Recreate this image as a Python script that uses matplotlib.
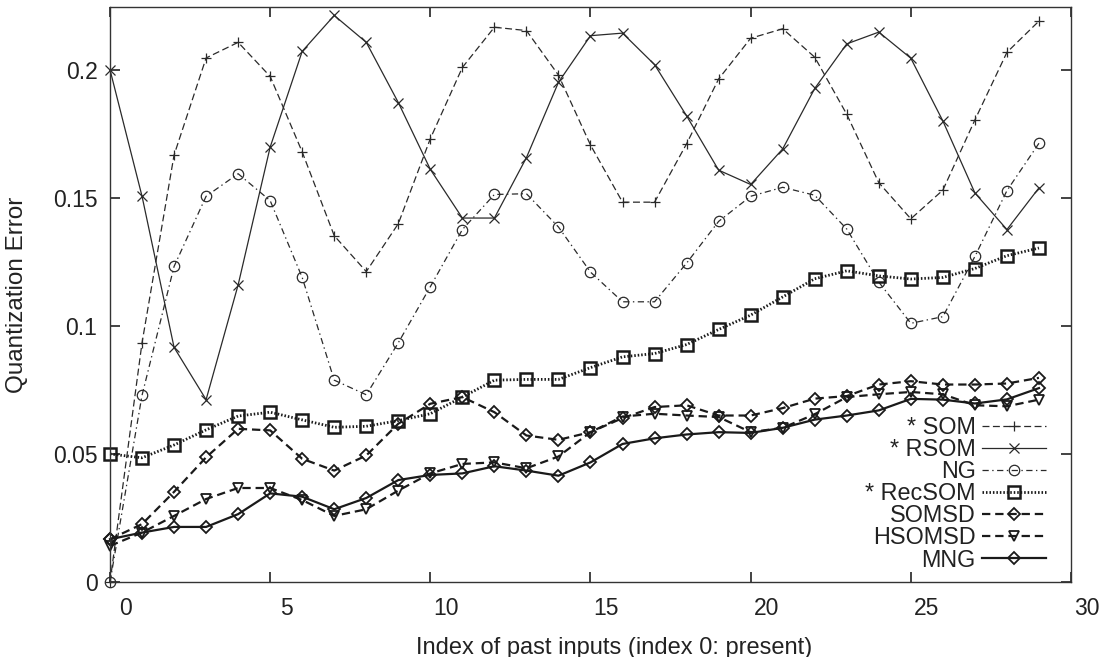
import numpy as np
import matplotlib
matplotlib.use("Agg")
import matplotlib.pyplot as plt
from matplotlib.transforms import ScaledTranslation

plt.rcParams['font.family'] = ['Liberation Sans', 'DejaVu Sans']
plt.rcParams['lines.scale_dashes'] = False

# index of past inputs
steps = np.arange(30)

som = [0.0, 0.0934, 0.1667, 0.2046, 0.2107, 0.1974, 0.1679, 0.1352, 0.1212, 0.1399,
       0.1731, 0.2009, 0.2166, 0.2153, 0.1979, 0.1706, 0.1483, 0.1483, 0.1711, 0.1964,
       0.2123, 0.2160, 0.2049, 0.1826, 0.1559, 0.1418, 0.1530, 0.1804, 0.2068, 0.2190]
rsom = [0.2000, 0.1506, 0.0916, 0.0712, 0.1160, 0.1698, 0.2072, 0.2212, 0.2107, 0.1872,
        0.1611, 0.1421, 0.1421, 0.1657, 0.1951, 0.2133, 0.2143, 0.2020, 0.1820, 0.1608,
        0.1552, 0.1691, 0.1927, 0.2101, 0.2147, 0.2045, 0.1800, 0.1519, 0.1376, 0.1539]
ng = [0.0, 0.0729, 0.1232, 0.1506, 0.1594, 0.1489, 0.1189, 0.0788, 0.0731, 0.0934,
      0.1153, 0.1376, 0.1513, 0.1516, 0.1386, 0.1210, 0.1094, 0.1094, 0.1245, 0.1408,
      0.1506, 0.1541, 0.1510, 0.1378, 0.1171, 0.1010, 0.1036, 0.1271, 0.1528, 0.1713]
recsom = [0.0500, 0.0485, 0.0535, 0.0594, 0.0648, 0.0663, 0.0633, 0.0604, 0.0608, 0.0630,
          0.0657, 0.0722, 0.0788, 0.0791, 0.0791, 0.0837, 0.0879, 0.0892, 0.0927, 0.0986,
          0.1042, 0.1113, 0.1184, 0.1215, 0.1195, 0.1183, 0.1189, 0.1224, 0.1274, 0.1304]
somsd = [0.0167, 0.0226, 0.0352, 0.0487, 0.0598, 0.0592, 0.0481, 0.0435, 0.0494, 0.0618,
         0.0696, 0.0722, 0.0663, 0.0572, 0.0555, 0.0585, 0.0640, 0.0683, 0.0690, 0.0650,
         0.0650, 0.0679, 0.0716, 0.0726, 0.0771, 0.0784, 0.0771, 0.0771, 0.0775, 0.0797]
hsomsd = [0.0141, 0.0193, 0.0258, 0.0324, 0.0367, 0.0367, 0.0320, 0.0258, 0.0284, 0.0357,
          0.0424, 0.0461, 0.0467, 0.0444, 0.0490, 0.0585, 0.0646, 0.0657, 0.0650, 0.0644,
          0.0585, 0.0602, 0.0655, 0.0722, 0.0733, 0.0742, 0.0733, 0.0690, 0.0686, 0.0712]
mng = [0.0167, 0.0193, 0.0215, 0.0215, 0.0265, 0.0346, 0.0333, 0.0284, 0.0328, 0.0398,
       0.0418, 0.0424, 0.0452, 0.0435, 0.0415, 0.0467, 0.0539, 0.0561, 0.0576, 0.0585,
       0.0582, 0.0602, 0.0634, 0.0650, 0.0670, 0.0715, 0.0712, 0.0697, 0.0713, 0.0757]

xticks = [0, 5, 10, 15, 20, 25, 30]
yticks = [0, 0.05, 0.1, 0.15, 0.2]
ytick_labels = ['0', '0.05', '0.1', '0.15', '0.2']

fig = plt.figure(figsize=(11.12, 6.57), dpi=100)
ax = fig.add_axes([110 / 1112, 1 - 582 / 657, 961 / 1112, 575 / 657])

thin = '#2a2a2a'
dark = '#1a1a1a'
ax.plot(steps, som, color=thin, lw=0.9, ls=(0, (5, 2.5)), marker='+', ms=7.5, mew=0.9,
        label='* SOM', clip_on=False)
ax.plot(steps, rsom, color=thin, lw=0.9, ls='-', marker='x', ms=7.5, mew=0.9,
        label='* RSOM', clip_on=False)
ax.plot(steps, ng, color=thin, lw=0.9, ls=(0, (4.5, 2.5, 1, 2.5)), marker='o', ms=7.5,
        mfc='none', mew=0.9, label='NG', clip_on=False)
ax.plot(steps, recsom, color=dark, lw=2.0, ls=(0, (1.1, 1.4)), marker='s', ms=8,
        mfc='none', mew=1.8, label='* RecSOM', clip_on=False)
ax.plot(steps, somsd, color=dark, lw=1.6, ls=(0, (6, 3.5)), marker='D', ms=6.5,
        mfc='none', mew=1.3, label='SOMSD', clip_on=False)
ax.plot(steps, hsomsd, color=dark, lw=1.6, ls=(0, (6, 3.5)), marker='v', ms=7.5,
        mfc='none', mew=1.3, label='HSOMSD', clip_on=False)
ax.plot(steps, mng, color=dark, lw=1.6, ls='-', marker='D', ms=6.5,
        mfc='none', mew=1.3, label='MNG', clip_on=False)

ax.set_xlim(0, 30)
ax.set_ylim(0, 0.2245)
ax.set_xticks(xticks)
ax.set_yticks(yticks)
ax.set_yticklabels(ytick_labels)
ax.tick_params(direction='in', length=7, width=1.2, top=True, right=True,
               labelsize=16.5, color='#222222', labelcolor='#222222')
ax.tick_params(axis='y', pad=9)
ax.tick_params(axis='x', pad=11)
# tick labels sit a little right of their ticks in the original
for lab in ax.get_xticklabels():
    lab.set_transform(lab.get_transform() + ScaledTranslation(0.16, 0, fig.dpi_scale_trans))
for sp in ax.spines.values():
    sp.set_linewidth(1.0)
    sp.set_color('#333333')

ax.set_xlabel('Index of past inputs (index 0: present)', fontsize=17, color='#222222')
ax.xaxis.set_label_coords((614 - 110) / 961, -0.095)
ax.set_ylabel('Quantization Error', fontsize=17.5, color='#222222', labelpad=18)

leg = ax.legend(loc='lower right', bbox_to_anchor=(0.981, 0.006), markerfirst=False,
                frameon=False, fontsize=16.8, handlelength=2.75, handletextpad=0.25,
                labelspacing=-0.04, borderpad=0.1, borderaxespad=0.2)
for t in leg.get_texts():
    t.set_color('#222222')

fig.savefig('out.png', dpi=100)
